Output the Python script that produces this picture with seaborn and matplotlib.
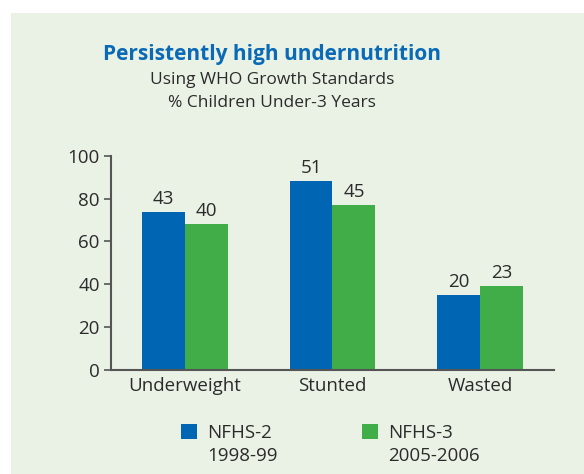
import numpy as np, pandas as pd
import matplotlib
matplotlib.use('Agg')
import matplotlib.pyplot as plt
import seaborn as sns
from matplotlib.patches import Rectangle

# Data:
categories = ['Underweight', 'Stunted', 'Wasted']
surveys = ['NFHS-2\n1998-99', 'NFHS-3\n2005-2006']
# Printed values above the bars:
nfhs2_labels = [43, 51, 20]
nfhs3_labels = [40, 45, 23]
# Bar heights as drawn against the axis (the source scales them):
nfhs2_heights = [73.8, 88.3, 35.0]
nfhs3_heights = [68.2, 77.1, 39.3]
yticks = [0, 20, 40, 60, 80, 100]

blue = '#0066b3'
green = '#41ad49'
bgColor = '#eaf2e6'
textColor = '#2b2b2b'
axisColor = '#555555'

sns.set_style('white')
plt.rcParams['font.family'] = ['Open Sans', 'DejaVu Sans']

df = pd.DataFrame({
    'category': categories * 2,
    'survey': [surveys[0]] * 3 + [surveys[1]] * 3,
    'height': nfhs2_heights + nfhs3_heights,
})

fig = plt.figure(figsize=(5.84, 4.74), dpi=100)
fig.patch.set_facecolor('white')
# Pale green panel behind everything:
fig.patches.append(Rectangle((11 / 584, 0), 1, 461 / 474, transform=fig.transFigure,
                             facecolor=bgColor, edgecolor='none', zorder=-10))

ax = fig.add_axes([0.190, 0.2194, 0.7586, 0.4521])
ax.set_facecolor('none')

sns.barplot(data=df, x='category', y='height', hue='survey', order=categories,
            hue_order=surveys, palette=[blue, green], width=0.58, saturation=1,
            errorbar=None, linewidth=0, ax=ax, legend=True)

# Bar labels with the printed values:
for container, labels in zip(ax.containers, [nfhs2_labels, nfhs3_labels]):
    ax.bar_label(container, labels=[str(v) for v in labels], padding=3,
                 fontsize=13.5, color=textColor)

ax.set_xlim(-0.5, 2.5)
ax.set_ylim(0, 100)
ax.set_yticks(yticks)
ax.set_xlabel('')
ax.set_ylabel('')
ax.set_xticks(range(len(categories)))
ax.set_xticklabels(categories)
ax.set_xticks([-0.5, 0.5, 1.5, 2.5], minor=True)
ax.tick_params(axis='x', which='major', length=0, pad=5, labelsize=13.5, labelcolor=textColor)
ax.tick_params(axis='x', which='minor', length=5, width=1.2, color=axisColor, direction='out')
ax.tick_params(axis='y', length=5, width=1.2, color=axisColor, labelsize=13.5,
               labelcolor=textColor, pad=3, left=True)
sns.despine(ax=ax)
for side in ['left', 'bottom']:
    ax.spines[side].set_color(axisColor)
    ax.spines[side].set_linewidth(1.5)

# Titles:
fig.text(0.466, 0.873, 'Persistently high undernutrition', ha='center', va='baseline',
         fontsize=15, fontweight='bold', color='#0a6ab5')
fig.text(0.466, 0.823, 'Using WHO Growth Standards', ha='center', va='baseline',
         fontsize=12.5, color=textColor)
fig.text(0.466, 0.775, '% Children Under-3 Years', ha='center', va='baseline',
         fontsize=12.5, color=textColor)

# Legend under the chart:
handles, labels = ax.get_legend_handles_labels()
ax.legend_.remove()
leg = fig.legend(handles, labels, loc='upper left', bbox_to_anchor=(0.31, 0.106), ncol=2,
                 frameon=False, fontsize=13.5, handlelength=0.85, handleheight=0.85,
                 handletextpad=0.55, columnspacing=4.5, labelcolor=textColor,
                 borderaxespad=0, borderpad=0, labelspacing=0.3)
# Put each square next to the first line of its label:
for column in leg._legend_handle_box.get_children():
    for row in column.get_children():
        row.align = 'top'
for text in leg.get_texts():
    text.set_linespacing(1.35)

plt.savefig('out.png', dpi=100, facecolor=fig.get_facecolor())
